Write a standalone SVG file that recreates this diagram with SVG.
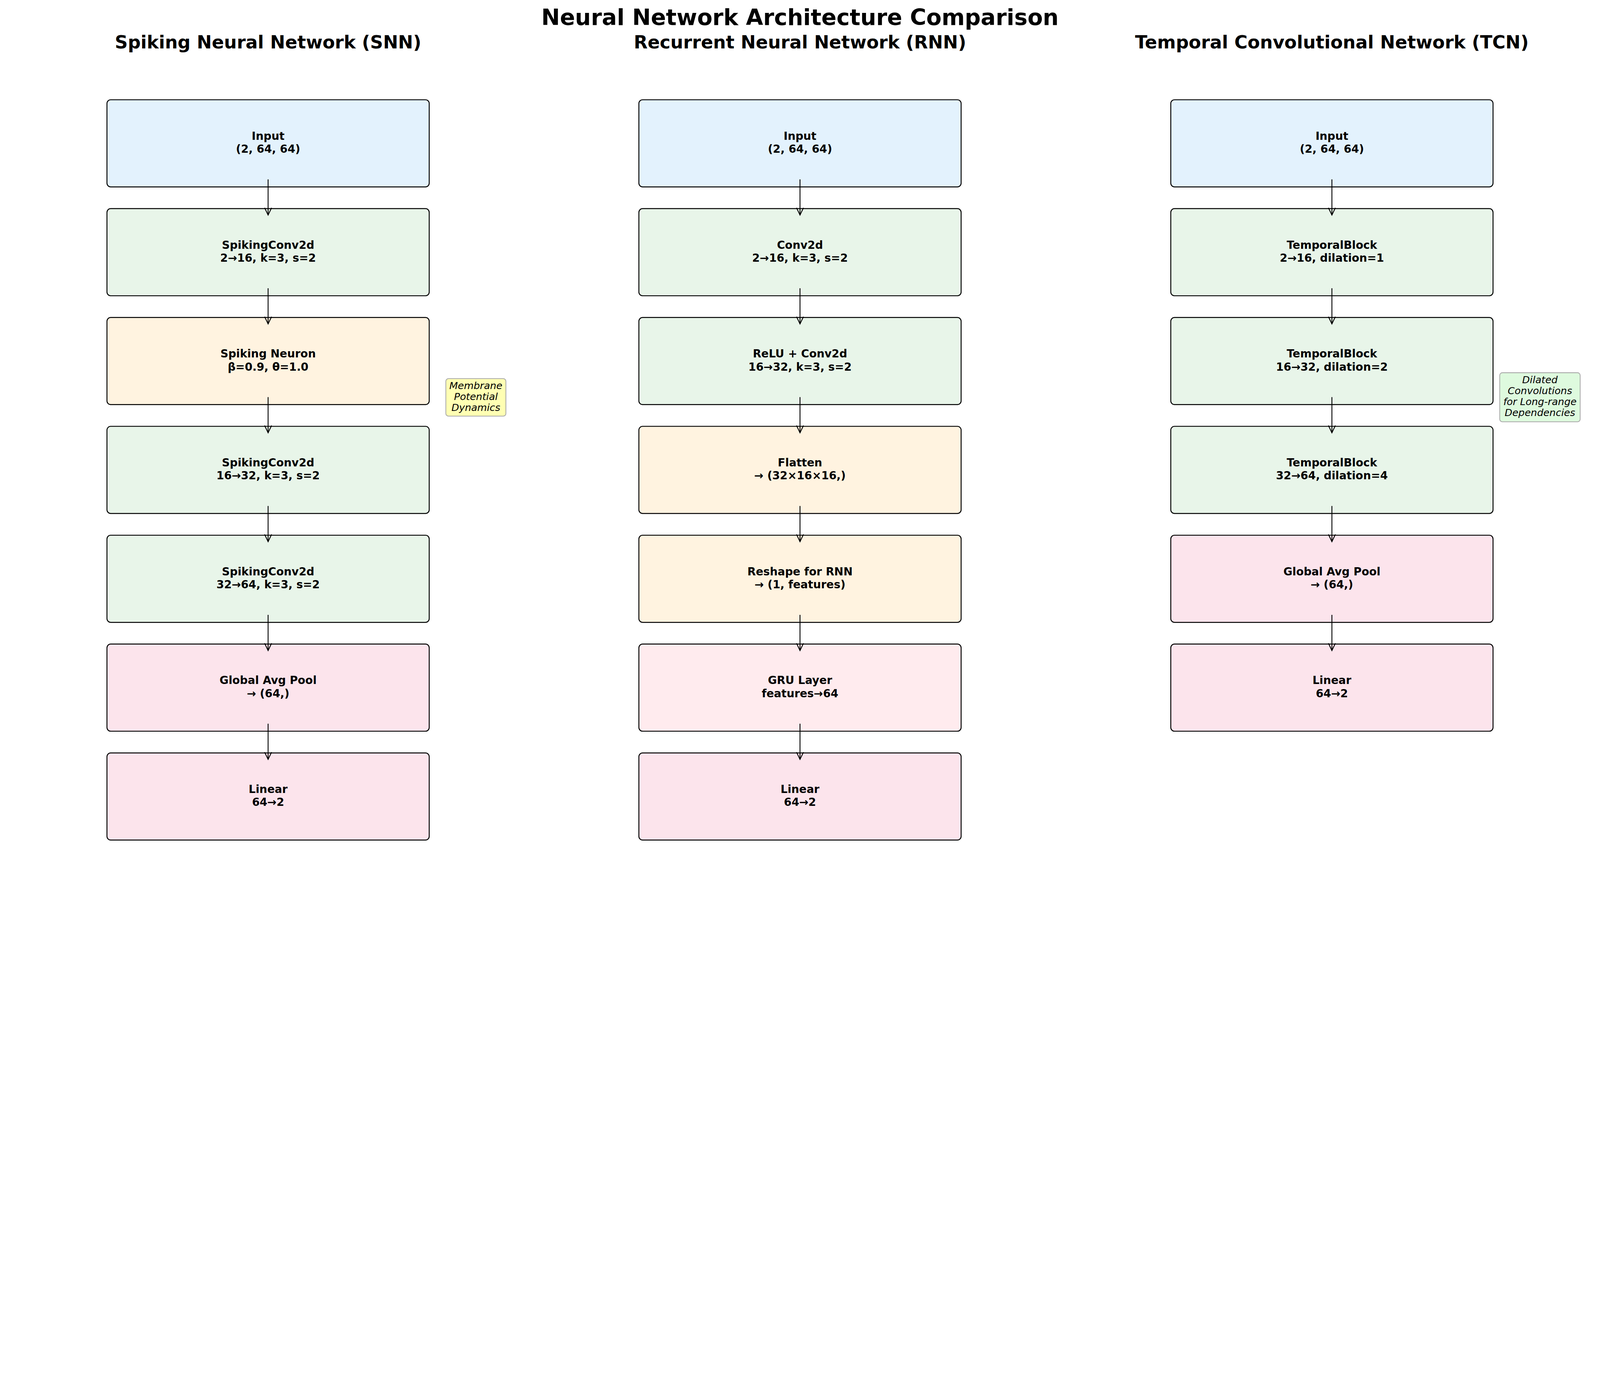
<svg xmlns="http://www.w3.org/2000/svg" width="5968" height="3543" viewBox="0 0 5968 3543" preserveAspectRatio="xMidYMin meet">
<style>
svg{width:100vw;height:calc(100vw * 3543 / 5968);max-height:100vh;overflow:hidden}
.box{stroke:#000;stroke-width:3.5}
.blue{fill:#E3F2FD}.green{fill:#E8F5E9}.orange{fill:#FFF3E0}.pink{fill:#FCE4EC}.rose{fill:#FFEBEE}
.t{font-family:"DejaVu Sans","Liberation Sans",sans-serif;font-weight:bold;font-size:41px;text-anchor:middle;fill:#000}
.h1{font-family:"DejaVu Sans","Liberation Sans",sans-serif;font-weight:bold;font-size:83px;text-anchor:middle;fill:#000}
.h2{font-family:"DejaVu Sans","Liberation Sans",sans-serif;font-weight:bold;font-size:67px;text-anchor:middle;fill:#000}
.note{font-family:"DejaVu Sans","Liberation Sans",sans-serif;font-style:italic;font-size:37px;text-anchor:middle;fill:#000}
.conn path{stroke:#000;stroke-width:3.3;fill:none}
</style>
<defs>
<marker id="arr" markerUnits="userSpaceOnUse" viewBox="-32 -17 34 34" markerWidth="34" markerHeight="34" refX="0" refY="0" orient="auto" overflow="visible">
<path d="M-27,-13 L0,0 L-27,13" fill="none" stroke="#000" stroke-width="3.3"/>
</marker>
</defs>
<rect width="5968" height="3543" fill="#fff"/>
<text class="h1" x="2984" y="93">Neural Network Architecture Comparison</text>
<text class="h2" x="1000" y="180">Spiking Neural Network (SNN)</text>
<text class="h2" x="2984" y="180">Recurrent Neural Network (RNN)</text>
<text class="h2" x="4968" y="180">Temporal Convolutional Network (TCN)</text>

<g id="snn-input"><rect class="box blue" x="399" y="372" width="1202" height="325" rx="14"/><text class="t" x="1000" y="521.5">Input</text><text class="t" x="1000" y="570">(2, 64, 64)</text></g>
<g id="snn-conv1"><rect class="box green" x="399" y="778" width="1202" height="325" rx="14"/><text class="t" x="1000" y="927.5">SpikingConv2d</text><text class="t" x="1000" y="976">2→16, k=3, s=2</text></g>
<g id="snn-neuron"><rect class="box orange" x="399" y="1184" width="1202" height="325" rx="14"/><text class="t" x="1000" y="1333.5">Spiking Neuron</text><text class="t" x="1000" y="1382">β=0.9, θ=1.0</text></g>
<g id="snn-conv2"><rect class="box green" x="399" y="1590" width="1202" height="325" rx="14"/><text class="t" x="1000" y="1739.5">SpikingConv2d</text><text class="t" x="1000" y="1788">16→32, k=3, s=2</text></g>
<g id="snn-conv3"><rect class="box green" x="399" y="1996" width="1202" height="325" rx="14"/><text class="t" x="1000" y="2145.5">SpikingConv2d</text><text class="t" x="1000" y="2194">32→64, k=3, s=2</text></g>
<g id="snn-pool"><rect class="box pink" x="399" y="2402" width="1202" height="325" rx="14"/><text class="t" x="1000" y="2551.5">Global Avg Pool</text><text class="t" x="1000" y="2600">→ (64,)</text></g>
<g id="snn-linear"><rect class="box pink" x="399" y="2808" width="1202" height="325" rx="14"/><text class="t" x="1000" y="2957.5">Linear</text><text class="t" x="1000" y="3006">64→2</text></g>
<g id="snn-note"><rect x="1663" y="1412" width="224" height="140" rx="10" fill="#FFFFB3" stroke="#A9A9A9" stroke-width="3"/><text class="note" x="1775" y="1450.7">Membrane</text><text class="note" x="1775" y="1491.7">Potential</text><text class="note" x="1775" y="1532.7">Dynamics</text></g>

<g id="rnn-input"><rect class="box blue" x="2383" y="372" width="1202" height="325" rx="14"/><text class="t" x="2984" y="521.5">Input</text><text class="t" x="2984" y="570">(2, 64, 64)</text></g>
<g id="rnn-conv1"><rect class="box green" x="2383" y="778" width="1202" height="325" rx="14"/><text class="t" x="2984" y="927.5">Conv2d</text><text class="t" x="2984" y="976">2→16, k=3, s=2</text></g>
<g id="rnn-conv2"><rect class="box green" x="2383" y="1184" width="1202" height="325" rx="14"/><text class="t" x="2984" y="1333.5">ReLU + Conv2d</text><text class="t" x="2984" y="1382">16→32, k=3, s=2</text></g>
<g id="rnn-flatten"><rect class="box orange" x="2383" y="1590" width="1202" height="325" rx="14"/><text class="t" x="2984" y="1739.5">Flatten</text><text class="t" x="2984" y="1788">→ (32×16×16,)</text></g>
<g id="rnn-reshape"><rect class="box orange" x="2383" y="1996" width="1202" height="325" rx="14"/><text class="t" x="2984" y="2145.5">Reshape for RNN</text><text class="t" x="2984" y="2194">→ (1, features)</text></g>
<g id="rnn-gru"><rect class="box rose" x="2383" y="2402" width="1202" height="325" rx="14"/><text class="t" x="2984" y="2551.5">GRU Layer</text><text class="t" x="2984" y="2600">features→64</text></g>
<g id="rnn-linear"><rect class="box pink" x="2383" y="2808" width="1202" height="325" rx="14"/><text class="t" x="2984" y="2957.5">Linear</text><text class="t" x="2984" y="3006">64→2</text></g>

<g id="tcn-input"><rect class="box blue" x="4367" y="372" width="1202" height="325" rx="14"/><text class="t" x="4968" y="521.5">Input</text><text class="t" x="4968" y="570">(2, 64, 64)</text></g>
<g id="tcn-block1"><rect class="box green" x="4367" y="778" width="1202" height="325" rx="14"/><text class="t" x="4968" y="927.5">TemporalBlock</text><text class="t" x="4968" y="976">2→16, dilation=1</text></g>
<g id="tcn-block2"><rect class="box green" x="4367" y="1184" width="1202" height="325" rx="14"/><text class="t" x="4968" y="1333.5">TemporalBlock</text><text class="t" x="4968" y="1382">16→32, dilation=2</text></g>
<g id="tcn-block3"><rect class="box green" x="4367" y="1590" width="1202" height="325" rx="14"/><text class="t" x="4968" y="1739.5">TemporalBlock</text><text class="t" x="4968" y="1788">32→64, dilation=4</text></g>
<g id="tcn-pool"><rect class="box pink" x="4367" y="1996" width="1202" height="325" rx="14"/><text class="t" x="4968" y="2145.5">Global Avg Pool</text><text class="t" x="4968" y="2194">→ (64,)</text></g>
<g id="tcn-linear"><rect class="box pink" x="4367" y="2402" width="1202" height="325" rx="14"/><text class="t" x="4968" y="2551.5">Linear</text><text class="t" x="4968" y="2600">64→2</text></g>
<g id="tcn-note"><rect x="5594" y="1390" width="300" height="183" rx="10" fill="#DEFADE" stroke="#A9A9A9" stroke-width="3"/><text class="note" x="5744" y="1429">Dilated</text><text class="note" x="5744" y="1470">Convolutions</text><text class="note" x="5744" y="1511">for Long-range</text><text class="note" x="5744" y="1552">Dependencies</text></g>

<g id="connectors" class="conn">
<path d="M1000,669 V802" marker-end="url(#arr)"/>
<path d="M1000,1075 V1208" marker-end="url(#arr)"/>
<path d="M1000,1481 V1614" marker-end="url(#arr)"/>
<path d="M1000,1887 V2020" marker-end="url(#arr)"/>
<path d="M1000,2293 V2426" marker-end="url(#arr)"/>
<path d="M1000,2699 V2832" marker-end="url(#arr)"/>
<path d="M2984,669 V802" marker-end="url(#arr)"/>
<path d="M2984,1075 V1208" marker-end="url(#arr)"/>
<path d="M2984,1481 V1614" marker-end="url(#arr)"/>
<path d="M2984,1887 V2020" marker-end="url(#arr)"/>
<path d="M2984,2293 V2426" marker-end="url(#arr)"/>
<path d="M2984,2699 V2832" marker-end="url(#arr)"/>
<path d="M4968,669 V802" marker-end="url(#arr)"/>
<path d="M4968,1075 V1208" marker-end="url(#arr)"/>
<path d="M4968,1481 V1614" marker-end="url(#arr)"/>
<path d="M4968,1887 V2020" marker-end="url(#arr)"/>
<path d="M4968,2293 V2426" marker-end="url(#arr)"/>
</g>
</svg>
